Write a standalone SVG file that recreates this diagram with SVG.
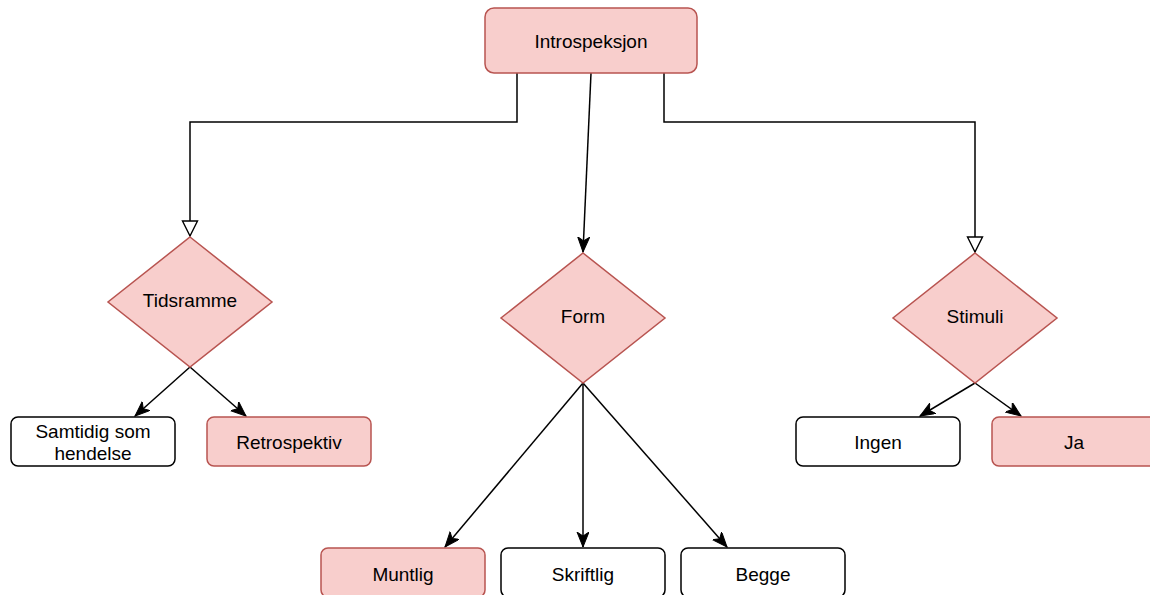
<svg xmlns="http://www.w3.org/2000/svg" width="1150" height="595" viewBox="0 0 1150 595">
<style>
.pink{fill:#f8cecc;stroke:#b85450;stroke-width:1.5}
.white{fill:#ffffff;stroke:#000000;stroke-width:1.5}
.t{font-family:"Liberation Sans",Arial,sans-serif;font-size:19px;fill:#000000;text-anchor:middle;dominant-baseline:central}
.c{fill:none;stroke:#000000;stroke-width:1.5}
</style>
<defs>
<marker id="hollow" markerUnits="userSpaceOnUse" markerWidth="18" markerHeight="18" viewBox="-1 -1 18 18" refX="15" refY="7.5" orient="auto">
<path d="M0,0 L15,7.5 L0,15 Z" fill="#ffffff" stroke="#000000" stroke-width="1.4"/>
</marker>
<marker id="arrow" markerUnits="userSpaceOnUse" markerWidth="16" markerHeight="14" viewBox="0 0 16 14" refX="15" refY="6" orient="auto">
<path d="M0,0 L15,6 L0,12 L4,6 Z" fill="#000000" stroke="#000000" stroke-width="1"/>
</marker>
</defs>
<g id="connectors">
<path class="c" d="M517,73 V122 H190 V236" marker-end="url(#hollow)"/>
<path class="c" d="M591,73 L583,252" marker-end="url(#arrow)"/>
<path class="c" d="M664,73 V122 H975 V252" marker-end="url(#hollow)"/>
<path class="c" d="M190,367 L135,416" marker-end="url(#arrow)"/>
<path class="c" d="M190,367 L246,416" marker-end="url(#arrow)"/>
<path class="c" d="M583,383 L445,547" marker-end="url(#arrow)"/>
<path class="c" d="M583,383 L583,547" marker-end="url(#arrow)"/>
<path class="c" d="M583,383 L727,547" marker-end="url(#arrow)"/>
<path class="c" d="M975,383 L920,416" marker-end="url(#arrow)"/>
<path class="c" d="M975,383 L1021,416" marker-end="url(#arrow)"/>
</g>
<g id="introspeksjon">
<rect class="pink" x="485" y="8" width="212" height="65" rx="9"/>
<text class="t" x="591" y="41">Introspeksjon</text>
</g>
<g id="tidsramme">
<polygon class="pink" points="190,237 272,302 190,367 108,302"/>
<text class="t" x="190" y="300">Tidsramme</text>
</g>
<g id="form">
<polygon class="pink" points="583,253 665,318 583,383 501,318"/>
<text class="t" x="583" y="316">Form</text>
</g>
<g id="stimuli">
<polygon class="pink" points="975,253 1057,318 975,383 893,318"/>
<text class="t" x="975" y="316">Stimuli</text>
</g>
<g id="samtidig">
<rect class="white" x="11" y="417" width="164" height="49" rx="7"/>
<text class="t" x="93" y="431">Samtidig som</text>
<text class="t" x="93" y="453">hendelse</text>
</g>
<g id="retrospektiv">
<rect class="pink" x="207" y="417" width="164" height="49" rx="7"/>
<text class="t" x="289" y="442">Retrospektiv</text>
</g>
<g id="ingen">
<rect class="white" x="796" y="417" width="164" height="49" rx="7"/>
<text class="t" x="878" y="442">Ingen</text>
</g>
<g id="ja">
<rect class="pink" x="992" y="417" width="164" height="49" rx="7"/>
<text class="t" x="1074" y="442">Ja</text>
</g>
<g id="muntlig">
<rect class="pink" x="321" y="548" width="164" height="49" rx="7"/>
<text class="t" x="403" y="574">Muntlig</text>
</g>
<g id="skriftlig">
<rect class="white" x="501" y="548" width="164" height="49" rx="7"/>
<text class="t" x="583" y="574">Skriftlig</text>
</g>
<g id="begge">
<rect class="white" x="681" y="548" width="164" height="49" rx="7"/>
<text class="t" x="763" y="574">Begge</text>
</g>
</svg>
